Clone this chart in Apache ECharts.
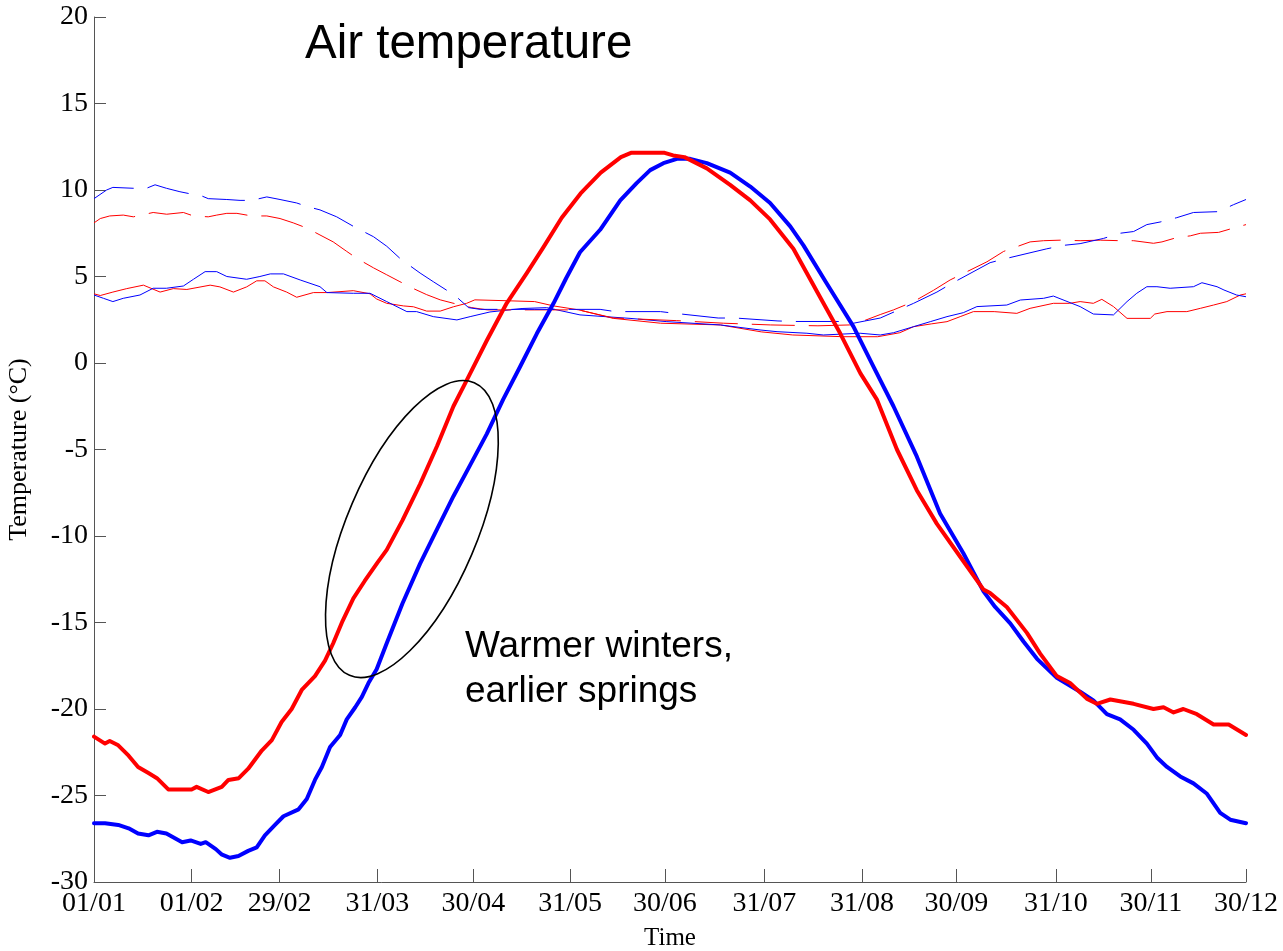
<!DOCTYPE html>
<html>
<head>
<meta charset="utf-8">
<script src="https://cdn.jsdelivr.net/npm/echarts@6/dist/echarts.min.js"></script>
<style>
html,body{margin:0;padding:0;background:#fff;}
#chart{width:1283px;height:951px;}
</style>
</head>
<body>
<div id="chart"></div>
<script>
// x = day of year (0 = 01/01), y = temperature (°C)
const tickDays = [0, 31, 59, 90, 120.5, 151.3, 181.4, 213, 244, 274, 305.6, 335.8, 366];
const tickLabels = ['01/01','01/02','29/02','31/03','30/04','31/05','30/06','31/07','31/08','30/09','31/10','30/11','30/12'];
const yTicks = [-30, 20, 5]; // min, max, step

const redThick = [[0,-21.6],[3.5,-22.0],[5,-21.85],[7.7,-22.1],[11,-22.7],[14,-23.35],[17.3,-23.7],[20,-24.0],[23.6,-24.65],[31,-24.65],[32.6,-24.5],[36.3,-24.8],[40.6,-24.5],[42.7,-24.1],[46,-24.0],[49,-23.45],[53.3,-22.4],[56.5,-21.8],[59.6,-20.75],[62.8,-20.0],[66,-18.9],[70.2,-18.1],[73.4,-17.2],[76,-16.2],[79,-14.9],[82.4,-13.6],[86,-12.6],[90,-11.55],[93,-10.8],[98,-9.1],[103.6,-7.0],[109,-4.8],[114.2,-2.5],[118.4,-1.0],[124.8,1.3],[131.1,3.45],[137.5,5.2],[142.8,6.7],[148.6,8.4],[154.6,9.8],[161,11.0],[167.4,11.9],[170.6,12.15],[181.3,12.15],[184,12.0],[187.6,11.9],[194.7,11.25],[202.1,10.3],[208.5,9.4],[214.8,8.3],[222.2,6.6],[230.7,3.8],[237.1,1.7],[243.5,-0.6],[248.7,-2.1],[255.1,-5.0],[261.4,-7.35],[267.8,-9.3],[275.2,-11.2],[282.6,-13.1],[284.7,-13.3],[290,-14.1],[296.4,-15.6],[300.6,-16.8],[305.9,-18.1],[310.1,-18.5],[315.4,-19.4],[318.6,-19.7],[322.9,-19.45],[330.3,-19.7],[336.6,-20.0],[339.8,-19.9],[343,-20.2],[346.1,-20.0],[350.4,-20.3],[355.7,-20.9],[360.5,-20.9],[366,-21.5]];

const blueThick = [[0,-26.6],[3.5,-26.6],[7.7,-26.7],[11,-26.9],[14,-27.2],[17.3,-27.3],[20,-27.1],[23,-27.2],[28,-27.7],[30.7,-27.6],[33.9,-27.8],[35.5,-27.7],[38.7,-28.1],[40.5,-28.4],[43.2,-28.6],[45.9,-28.5],[49,-28.2],[51.7,-28.0],[54.3,-27.3],[57.5,-26.7],[60.2,-26.2],[65,-25.8],[67.6,-25.2],[70.2,-24.1],[72.4,-23.35],[75,-22.2],[78.2,-21.5],[80.3,-20.6],[83,-19.9],[85.1,-19.3],[87.2,-18.5],[89.8,-17.7],[93,-16.2],[98,-13.9],[103.6,-11.6],[109,-9.6],[114.2,-7.7],[119.5,-5.9],[124.8,-4.1],[130,-2.1],[135.4,-0.2],[140.7,1.7],[146,3.45],[150,4.9],[154.4,6.4],[160.8,7.7],[167.2,9.4],[172.4,10.4],[176.7,11.15],[180.9,11.55],[185.2,11.8],[189.4,11.8],[194.7,11.55],[202.1,11.0],[208.5,10.2],[214.8,9.25],[221.2,7.9],[225.4,6.8],[232.8,4.6],[241.3,2.1],[247.6,-0.2],[254,-2.5],[261.4,-5.4],[268.8,-8.7],[276.2,-11.0],[282.6,-13.2],[286.3,-14.1],[291.1,-15.05],[295.3,-16.1],[299.6,-17.1],[305.9,-18.2],[313.3,-19.0],[317.5,-19.5],[321.8,-20.3],[326,-20.6],[330.3,-21.2],[334.5,-22.0],[337.7,-22.8],[340.9,-23.35],[345.1,-23.9],[349.3,-24.3],[353.6,-24.9],[357.8,-26.0],[361,-26.4],[366,-26.6]];

const blueUpper = [[0,9.5],[4,10.0],[6,10.15],[12.5,10.1],[16,10.05],[19.4,10.3],[23,10.1],[27.3,9.9],[30,9.8],[33,9.75],[36.3,9.5],[42.2,9.45],[46.4,9.4],[50.1,9.4],[54.9,9.6],[59.1,9.45],[64.4,9.25],[67.6,9.05],[71.8,8.85],[77.1,8.45],[82.4,7.9],[84.5,7.7],[88.8,7.3],[93,6.75],[97.2,6.05],[99.4,5.75],[103.6,5.2],[107.8,4.7],[112.1,4.2],[115.3,3.8],[119,3.2],[122.7,3.1],[140,3.1],[160.8,3.1],[165.6,2.97],[180,2.97],[184.6,2.87],[198.3,2.6],[203.7,2.6],[217.3,2.43],[222.8,2.4],[236.4,2.4],[241.3,2.3],[249.8,2.6],[260.4,3.45],[267.8,4.1],[272.5,4.6],[284.7,5.8],[290,6.05],[302.7,6.6],[308,6.8],[313.3,6.9],[320.7,7.2],[326,7.5],[330.3,7.6],[334.5,8.0],[338.7,8.15],[344,8.4],[349.3,8.7],[357.3,8.75],[362,9.15],[366,9.45]];

const redUpper = [[0,8.1],[2,8.35],[5,8.5],[9.3,8.55],[12.5,8.45],[18.8,8.7],[23.1,8.6],[28.4,8.7],[31.6,8.5],[36.3,8.45],[39,8.55],[42.2,8.65],[45.4,8.65],[50.1,8.5],[54.9,8.5],[59.1,8.35],[63.3,8.1],[67.6,7.8],[71.8,7.4],[76,7.0],[80.3,6.45],[83.5,6.05],[88.8,5.5],[93,5.1],[97.2,4.7],[101.5,4.3],[105.7,3.95],[110,3.65],[115.3,3.4],[120,3.2],[125,3.07],[154,3.07],[165,2.6],[185,2.45],[200,2.3],[215,2.2],[230,2.15],[240,2.2],[244,2.4],[249.8,2.8],[254,3.07],[260.4,3.55],[266.7,4.2],[272,4.8],[283.7,5.85],[289,6.45],[297.4,7.0],[301.7,7.07],[307,7.1],[313.3,7.07],[319.7,7.1],[326,7.07],[330.3,7.07],[336.6,6.92],[339.3,7.0],[344,7.25],[348.3,7.35],[351.5,7.5],[357.3,7.55],[362,7.8],[366,8.0]];

const redLower = [[0,4.0],[2,3.9],[6,4.1],[10.4,4.3],[15.7,4.5],[21,4.1],[25.2,4.3],[29.5,4.25],[36.9,4.5],[40,4.4],[44.3,4.1],[48.5,4.4],[51.7,4.75],[54.3,4.75],[57,4.4],[61.2,4.1],[64.4,3.8],[69.7,4.07],[74,4.07],[82.4,4.18],[87.7,4.0],[89.8,3.7],[93,3.45],[98.3,3.3],[101.5,3.25],[105.7,3.0],[110,3.0],[114.2,3.25],[118.4,3.45],[121,3.65],[131,3.6],[140,3.55],[146,3.3],[154,3.07],[165,2.58],[180,2.3],[199,2.2],[212,1.8],[222,1.62],[238,1.52],[249,1.52],[256,1.75],[260.4,2.1],[266,2.26],[271,2.39],[275.2,2.68],[279.4,2.97],[286,2.97],[293.2,2.87],[297.4,3.16],[304.8,3.45],[310,3.45],[313.3,3.55],[317.5,3.45],[320.2,3.68],[323.9,3.26],[328.2,2.58],[335.6,2.58],[337,2.83],[340.9,2.97],[347.2,2.97],[351.5,3.16],[355.7,3.35],[359.9,3.55],[364.2,3.93],[366,4.0]];

const blueLower = [[0,3.93],[3,3.74],[6,3.55],[9.3,3.74],[14.6,3.93],[18.8,4.32],[23,4.32],[28.4,4.45],[31.6,4.84],[35.3,5.28],[39,5.28],[42.2,5.0],[48.5,4.84],[52.7,5.0],[56,5.15],[60.2,5.15],[65.5,4.8],[71.8,4.41],[74,4.07],[82.4,4.03],[87.7,4.03],[93,3.55],[99.4,2.97],[102.5,2.97],[107.8,2.68],[115.3,2.49],[119.5,2.68],[125.8,2.95],[136,3.15],[143.8,3.2],[154.4,2.78],[170.3,2.58],[182,2.39],[199,2.2],[211.6,1.91],[217,1.81],[226.5,1.72],[231.7,1.62],[243.4,1.72],[249.8,1.62],[254,1.75],[260.4,2.1],[265.7,2.39],[271,2.68],[276.2,2.91],[280.5,3.26],[290,3.35],[294.3,3.64],[301.7,3.74],[304.8,3.87],[313.3,3.26],[317.5,2.83],[323.9,2.78],[328.2,3.55],[331.3,4.03],[334.5,4.41],[337.7,4.41],[341.9,4.32],[349.3,4.41],[352,4.64],[356.8,4.41],[359,4.22],[363,3.93],[366,3.83]];

// annotation ellipse centre (day, °C)
const ellipseCenter = [101, -9.6];

const serif = '"Liberation Serif", "Times New Roman", serif';
const sans = '"Liberation Sans", Arial, sans-serif';
const axisGray = '#555';

const chart = echarts.init(document.getElementById('chart'), null, {renderer: 'canvas'});

function thin(data, color, dashed) {
  return {
    type: 'line', data: data, symbol: 'none', showSymbol: false, silent: true,
    lineStyle: {color: color, width: 1, type: dashed ? [43, 14] : 'solid'},
    z: 2
  };
}
function thick(data, color, z) {
  return {
    type: 'line', data: data, symbol: 'none', showSymbol: false, silent: true,
    lineStyle: {color: color, width: 4, cap: 'round', join: 'round'},
    z: z
  };
}

chart.setOption({
  animation: false,
  backgroundColor: '#fff',
  grid: {left: 94, right: 37, top: 17, bottom: 69, containLabel: false, outerBoundsMode: 'none'},
  xAxis: {
    type: 'value', min: 0, max: 366,
    name: 'Time', nameLocation: 'middle', nameGap: 44,
    nameTextStyle: {fontFamily: serif, fontSize: 25, color: '#000'},
    axisLine: {show: true, onZero: false, lineStyle: {color: axisGray, width: 1}},
    axisTick: {show: true, inside: true, length: 13, customValues: tickDays, lineStyle: {color: axisGray, width: 1}},
    axisLabel: {
      customValues: tickDays, margin: 8,
      fontFamily: serif, fontSize: 28, color: '#000',
      formatter: function (v) {
        for (let i = 0; i < tickDays.length; i++) if (Math.abs(tickDays[i] - v) < 0.01) return tickLabels[i];
        return '';
      }
    },
    splitLine: {show: false}
  },
  yAxis: {
    type: 'value', min: yTicks[0], max: yTicks[1], interval: yTicks[2],
    name: 'Temperature (\u00B0C)', nameLocation: 'middle', nameGap: 62, nameRotate: 90,
    nameTextStyle: {fontFamily: serif, fontSize: 26, color: '#000'},
    axisLine: {show: true, onZero: false, lineStyle: {color: axisGray, width: 1}},
    axisTick: {show: true, inside: true, length: 12, lineStyle: {color: axisGray, width: 1}},
    axisLabel: {margin: 6, fontFamily: serif, fontSize: 28, color: '#000'},
    splitLine: {show: false}
  },
  series: [
    thin(redLower, '#ff0000', false),
    thin(blueLower, '#0000ff', false),
    thin(redUpper, '#ff0000', true),
    thin(blueUpper, '#0000ff', true),
    thick(blueThick, '#0000ff', 5),
    thick(redThick, '#ff0000', 6)
  ]
});

const c = chart.convertToPixel({gridIndex: 0}, ellipseCenter);
chart.setOption({
  graphic: [
    {
      type: 'ellipse', silent: true, z: 10,
      x: c[0], y: c[1], rotation: -0.403,
      shape: {cx: 0, cy: 0, rx: 65, ry: 159},
      style: {fill: 'none', stroke: '#000', lineWidth: 1.6}
    },
    {
      type: 'text', silent: true, z: 10, x: 305, y: 45,
      style: {text: 'Air temperature', font: '47.5px ' + sans, fill: '#000', verticalAlign: 'middle'}
    },
    {
      type: 'text', silent: true, z: 10, x: 465, y: 624,
      style: {text: 'Warmer winters,\nearlier springs', font: '37px ' + sans, fill: '#000', lineHeight: 45, verticalAlign: 'top'}
    }
  ]
});
</script>
</body>
</html>
